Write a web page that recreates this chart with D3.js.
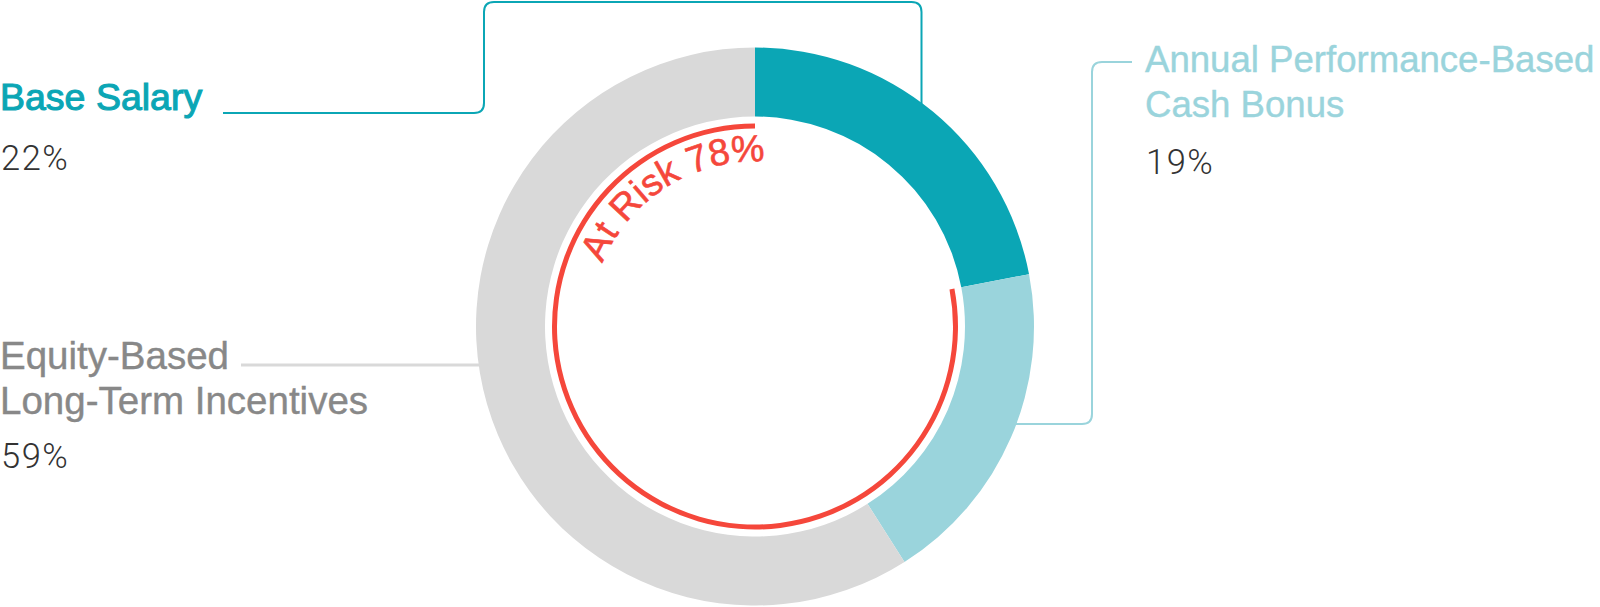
<!DOCTYPE html>
<html>
<head>
<meta charset="utf-8">
<script src="https://cdn.jsdelivr.net/npm/d3@7"></script>
<style>
  body { margin: 0; background: #fff; }
  svg { display: block; }
</style>
</head>
<body>
<script>
// pay mix data
var categories = ["Base Salary", "Annual Performance-Based Cash Bonus", "Equity-Based Long-Term Incentives"];
var labelLines = [["Base Salary"], ["Annual Performance-Based", "Cash Bonus"], ["Equity-Based", "Long-Term Incentives"]];
var shares = [22, 19, 59];
var shareLabels = ["22%", "19%", "59%"];
var colors = ["#0ba6b5", "#9ad4dc", "#d9d9d9"];
var labelColors = ["#0ba6b5", "#9ad4dc", "#888888"];
var atRiskLabel = "At Risk 78%";
var atRiskValue = 78;

var width = 1600, height = 607;
var cx = 755, cy = 326.5;
var outerR = 279, innerR = 210;

var svg = d3.select('body').append('svg')
            .attr('width', width)
            .attr('height', height);

var angle = d3.scaleLinear().domain([0, 100]).range([0, 2 * Math.PI]);

var pie = d3.pie().sort(null).value(function(d){ return d; });
var arcs = pie(shares);
var arc = d3.arc().innerRadius(innerR).outerRadius(outerR);

// leader lines (drawn under the ring)
function edgeY(x, up) {
  var dx = x - cx;
  var dy = Math.sqrt(outerR * outerR - dx * dx);
  return up ? cy - dy : cy + dy;
}
var lines = svg.append('g').attr('fill', 'none');
var p0 = d3.path();
p0.moveTo(223, 113); p0.lineTo(474, 113);
p0.quadraticCurveTo(484, 113, 484, 103);
p0.lineTo(484, 12);
p0.quadraticCurveTo(484, 2, 494, 2);
p0.lineTo(911.5, 2);
p0.quadraticCurveTo(921.5, 2, 921.5, 12);
p0.lineTo(921.5, edgeY(921.5, true) + 6);
lines.append('path').attr('d', p0.toString()).attr('stroke', colors[0]).attr('stroke-width', 2);

var p1 = d3.path();
p1.moveTo(1132, 62); p1.lineTo(1102, 62);
p1.quadraticCurveTo(1092, 62, 1092, 72);
p1.lineTo(1092, 414);
p1.quadraticCurveTo(1092, 424, 1082, 424);
p1.lineTo(1010, 424);
lines.append('path').attr('d', p1.toString()).attr('stroke', colors[1]).attr('stroke-width', 2);

lines.append('path').attr('d', 'M241,365H500').attr('stroke', colors[2]).attr('stroke-width', 3);

// ring
var ring = svg.append('g').attr('transform', 'translate(' + cx + ',' + cy + ')');
ring.selectAll('path.slice')
    .data(arcs)
    .enter()
    .append('path')
      .attr('class', 'slice')
      .attr('d', arc)
      .attr('fill', function(d, i){ return colors[i]; });

// at-risk arc
var riskArc = d3.arc().innerRadius(198).outerRadius(203)
  .startAngle(angle(100 - atRiskValue)).endAngle(angle(100));
ring.append('path').attr('d', riskArc()).attr('fill', '#f5473b');

// curved label
var r = 165;
var a0 = angle(69.4) - Math.PI / 2, a1 = angle(112.8) - Math.PI / 2;
var tp = d3.path();
tp.arc(0, 0, r, a0, a1);
ring.append('path').attr('id', 'riskPath').attr('d', tp.toString()).attr('fill', 'none');
ring.append('text')
    .attr('font-family', '"Liberation Sans", Arial, sans-serif')
    .attr('font-size', 37.5)
    .attr('fill', '#f5473b')
    .attr('stroke', '#f5473b')
    .attr('stroke-width', 0.6)
  .append('textPath')
    .attr('href', '#riskPath')
    .attr('startOffset', '50%')
    .attr('text-anchor', 'middle')
    .text(atRiskLabel);

// side labels
var labelPos = [
  {x: 0, y: 110, pct: 170, size: 37.5, sw: 1.1},
  {x: 1145, y: 72, pct: 174, size: 36.6, sw: 0.4},
  {x: 0, y: 369, pct: 468, size: 38.5, sw: 0.4}
];
var labels = svg.selectAll('g.label')
  .data(categories)
  .enter()
  .append('g')
    .attr('class', 'label');

labels.each(function(d, i) {
  var g = d3.select(this);
  var t = g.append('text')
    .attr('font-family', '"Liberation Sans", Arial, sans-serif')
    .attr('font-size', labelPos[i].size)
    .attr('fill', labelColors[i])
    .attr('stroke', labelColors[i])
    .attr('stroke-width', labelPos[i].sw);
  t.selectAll('tspan')
    .data(labelLines[i])
    .enter()
    .append('tspan')
      .attr('x', labelPos[i].x)
      .attr('y', function(s, j){ return labelPos[i].y + j * 44.5; })
      .text(function(s){ return s; });
  g.append('text')
    .attr('x', labelPos[i].x + 1)
    .attr('y', labelPos[i].pct)
    .attr('font-family', 'Roboto, "Liberation Sans", sans-serif')
    .attr('font-weight', 300)
    .attr('font-size', 34.5)
    .attr('letter-spacing', 1.5)
    .attr('fill', '#333333')
    .text(shareLabels[i]);
});
</script>
</body>
</html>
